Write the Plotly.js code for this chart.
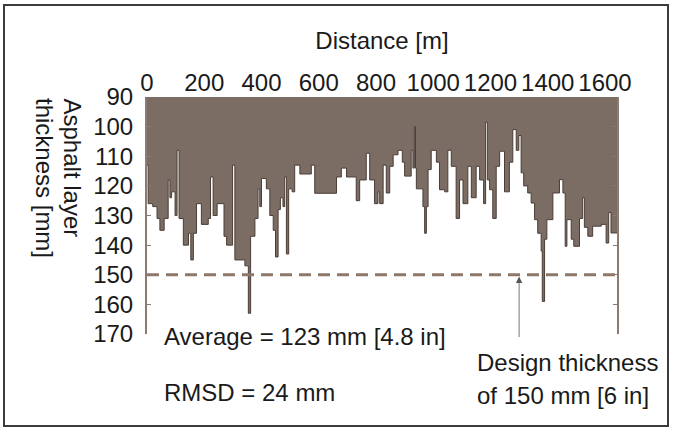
<!DOCTYPE html>
<html><head><meta charset="utf-8">
<script src="https://cdn.plot.ly/plotly-3.0.1.min.js"></script>
<style>html,body{margin:0;padding:0;background:#fff;} #chart{width:673px;height:431px;}</style>
</head><body><div id="chart"></div>
<script>
// Distance [m] at which each step of the profile starts
const distance = [0,4,20,35,45,60,74,80,86,98,105,112,127,145,153,162,173,190,214,222,231,245,269,278,299,307,342,354,362,377,388,394,400,417,429,441,449,458,466,475,481,487,495,507,516,534,574,586,662,679,697,731,743,766,778,795,807,813,825,836,848,860,877,892,900,923,929,934,938,941,964,970,976,982,993,1011,1022,1040,1051,1063,1080,1092,1104,1121,1133,1150,1162,1176,1183,1189,1197,1208,1220,1232,1249,1266,1278,1290,1299,1307,1316,1330,1342,1354,1365,1377,1381,1389,1397,1418,1441,1453,1461,1467,1482,1491,1511,1522,1528,1540,1557,1587,1604,1613,1621,1642];
// Asphalt layer thickness [mm]
const thickness = [113,126,127,131,135,131,118,124,122,130,108,131,140,136,145,136,126,133,131,117,130,126,137,140,113,145,147,163,137,131,121,127,117.5,121,130,135,144,128,124,127,117,143,121,122,113,116,113,122.5,117,114,117,125,118,109,118,126,122,126,113,122.4,113.4,109.5,108,112,116.7,108,114,100,114,121,127,136,127,114.5,108,112,121.3,122,108,113.4,131,118,126,113.4,124,113.4,118,126,98.5,118,121.3,131,113.4,108.3,122,112,101,108,103,115.6,120,122.4,125.8,131.4,136,142,159,138,131.4,122.4,117.9,122.4,140.4,131.4,138,140.4,131,124,134,137,133.6,133,139.3,129,135.9,135.9];
const designThickness = 150;
const arrowDistance = 1300;
const xTicks = [0,200,400,600,800,1000,1200,1400,1600];
const yTicks = [90,100,110,120,130,140,150,160,170];
const xTitle = 'Distance [m]';
const yTitle1 = 'Asphalt layer';
const yTitle2 = 'thickness [mm]';
const avgText = 'Average = 123 mm [4.8 in]';
const rmsdText = 'RMSD = 24 mm';
const designText1 = 'Design thickness';
const designText2 = 'of 150 mm [6 in]';

const W = 673, H = 431, ML = 147, MR = 56, MT = 97, MB = 97;
const L = ML, R = W - MR, T = MT, B = H - MB;
const px = x => (x - L) / (R - L);
const py = y => (B - y) / (B - T);
const FONT = 'Liberation Sans, Arial, sans-serif';
const fs = 24;

const xEnd = distance[distance.length - 1];

const traces = [
  {
    x: distance, y: thickness, type: 'scatter', mode: 'lines',
    line: {shape: 'hv', color: '#4a3e37', width: 1},
    fill: 'tozeroy', fillcolor: '#7b6d64', hoverinfo: 'skip'
  },
  {
    x: [0, xEnd], y: [designThickness, designThickness], type: 'scatter', mode: 'lines',
    line: {color: '#8e786a', width: 3, dash: '12px,7px'}, hoverinfo: 'skip'
  }
];

const textAnn = (t, x, y, xa, ya, angle) => ({
  text: t, xref: 'paper', yref: 'paper', x: px(x), y: py(y),
  xanchor: xa, yanchor: ya, showarrow: false, textangle: angle || 0,
  font: {family: FONT, size: fs, color: '#1a1a1a'}
});

const layout = {
  width: W, height: H,
  margin: {l: ML, r: MR, t: MT, b: MB, pad: 0},
  paper_bgcolor: '#ffffff', plot_bgcolor: '#ffffff',
  showlegend: false,
  font: {family: FONT, size: fs, color: '#1a1a1a'},
  xaxis: {
    range: [0, xEnd], side: 'top', tickvals: xTicks, ticktext: xTicks.map(String),
    showgrid: false, zeroline: false, showline: false, ticks: '',
    tickfont: {family: FONT, size: fs, color: '#1a1a1a'},
    title: {text: xTitle, font: {family: FONT, size: fs, color: '#1a1a1a'}, standoff: 12}
  },
  yaxis: {
    range: [170, 90], tickvals: yTicks, ticktext: yTicks.map(String),
    showgrid: false, zeroline: false, showline: true, mirror: 'ticks',
    linecolor: '#8c7b70', linewidth: 2,
    ticks: 'inside', ticklen: 4, tickcolor: '#8c7b70', tickwidth: 1,
    ticklabelstandoff: 7,
    tickfont: {family: FONT, size: fs, color: '#1a1a1a'}
  },
  annotations: [
    textAnn(yTitle1, 72, 96, 'center', 'top', 90),
    textAnn(yTitle2, 45, 96, 'center', 'top', 90),
    textAnn(avgText, 162, 336, 'left', 'middle'),
    textAnn(rmsdText, 162, 392, 'left', 'middle'),
    textAnn(designText1, 475, 362, 'left', 'middle'),
    textAnn(designText2, 475, 395, 'left', 'middle'),
    {
      x: arrowDistance, y: designThickness + 0.6, xref: 'x', yref: 'y',
      text: '', showarrow: true, ax: 0, ay: 62, axref: 'pixel', ayref: 'pixel',
      arrowhead: 2, arrowsize: 1.6, arrowwidth: 0.8, arrowcolor: '#555555'
    }
  ],
  shapes: [
    {type: 'rect', xref: 'paper', yref: 'paper', x0: px(4), x1: px(668), y0: py(426), y1: py(5),
     line: {color: '#3c3c3c', width: 2}, fillcolor: 'rgba(0,0,0,0)', layer: 'above'}
  ]
};

Plotly.newPlot('chart', traces, layout, {displayModeBar: false, staticPlot: true});
</script>
</body></html>
